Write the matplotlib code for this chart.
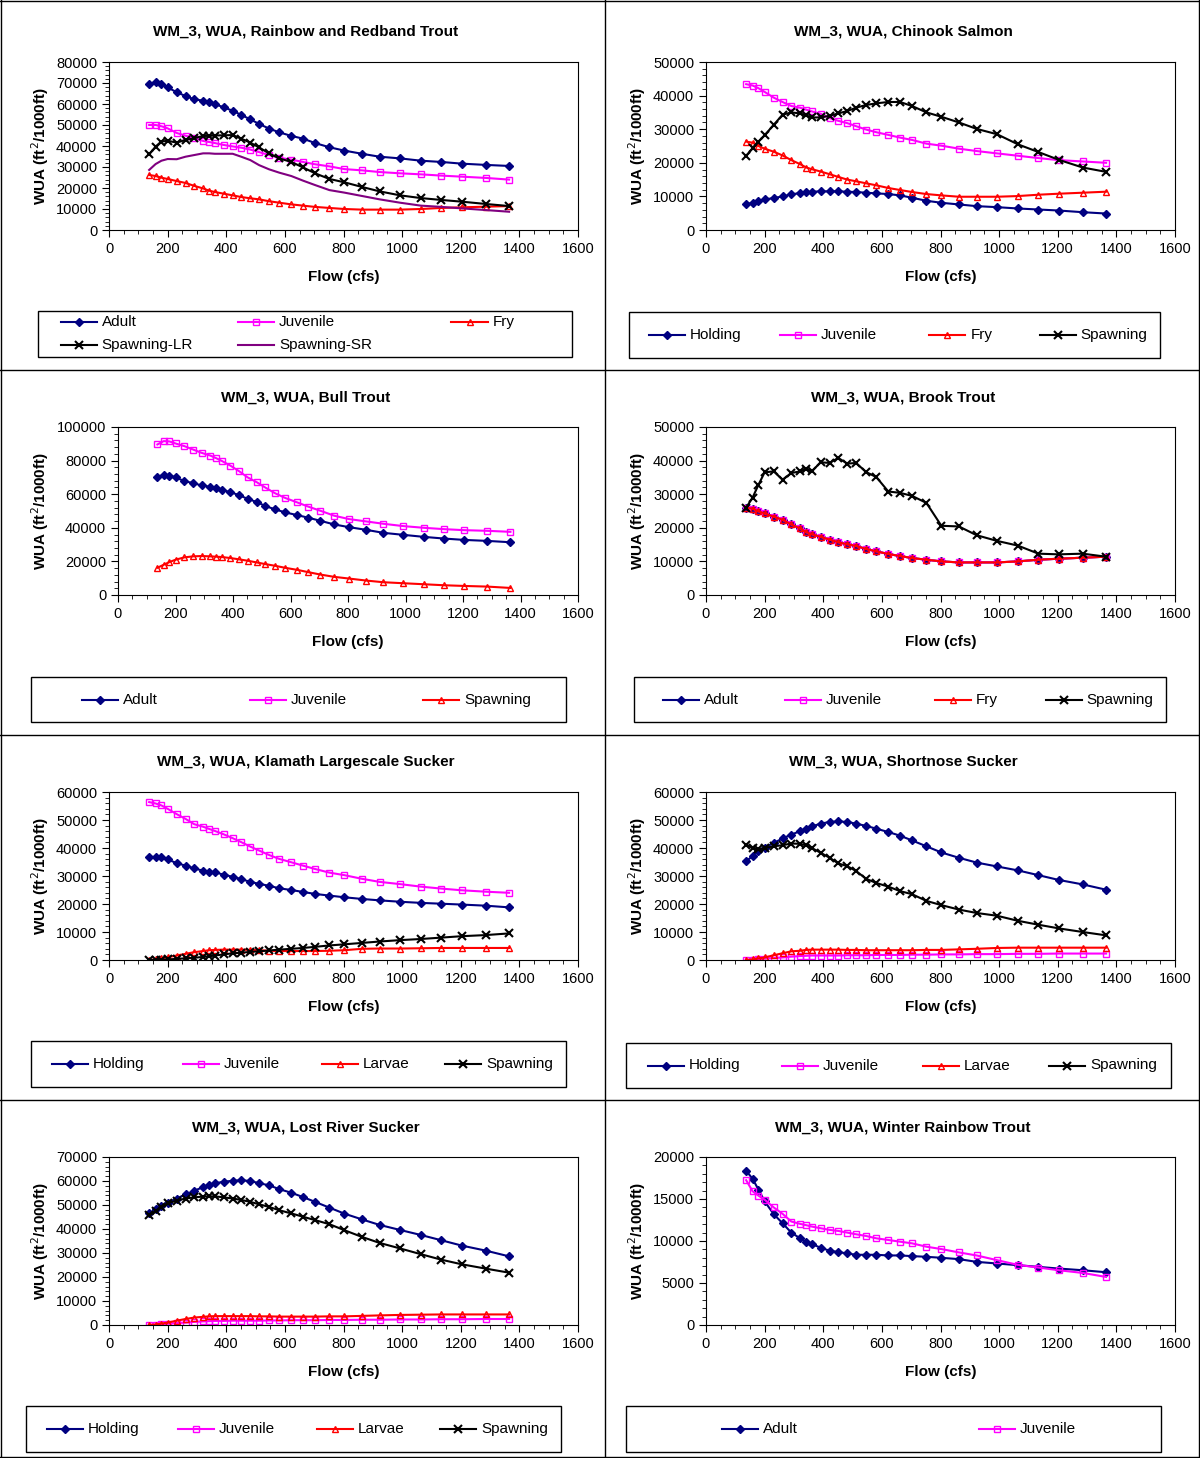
import matplotlib
matplotlib.use("Agg")
import matplotlib.pyplot as plt
from matplotlib.lines import Line2D
from matplotlib.patches import Rectangle
from matplotlib.ticker import MultipleLocator

plt.rcParams["font.family"] = ["Liberation Sans", "DejaVu Sans"]
plt.rcParams["font.size"] = 10

flow = [137, 159, 179, 200, 231, 261, 291, 321, 342, 361, 391, 422, 451, 482, 512,
        546, 581, 622, 662, 703, 752, 803, 863, 923, 993, 1064, 1134, 1203, 1285, 1365]

# Rainbow and Redband Trout
rb_adult = [69500, 70500, 69500, 67900, 65600, 63800, 62200, 61600, 60800, 60000, 58400, 56800, 54800, 52700, 50500,
            48300, 46500, 44800, 43500, 41400, 39400, 37800, 36300, 34900, 34100, 33000, 32400, 31600, 31000, 30500]
rb_juv = [50000, 50000, 49400, 48400, 46200, 44900, 43800, 42400, 41900, 41400, 40500, 39800, 39200, 38300, 37100,
          35700, 34400, 33500, 32400, 31300, 30300, 29000, 28400, 27600, 27000, 26500, 25900, 25400, 24800, 24000]
rb_fry = [26200, 25700, 24900, 24300, 23300, 22400, 21000, 19800, 18700, 18100, 17300, 16500, 15700, 15100, 14600,
          13700, 13000, 12200, 11600, 11000, 10500, 10000, 9700, 9700, 9700, 10000, 10500, 10800, 11100, 11400]
rb_spawn_lr = [36000, 39700, 42100, 42500, 41600, 42900, 43700, 44800, 44800, 45000, 45100, 45200, 43500, 41600, 39300,
               36500, 34100, 32400, 29800, 27000, 24300, 22700, 20500, 18400, 16500, 15200, 14300, 13500, 12400, 11400]
rb_spawn_sr = [28600, 31400, 33000, 33800, 33700, 34900, 35700, 36500, 36500, 36300, 36300, 36300, 34900, 33300, 30900,
               28900, 27300, 25700, 23500, 21400, 19000, 17800, 16200, 14600, 13000, 11600, 11000, 10300, 9500, 8700]

# Chinook Salmon
ch_hold = [7600, 8100, 8600, 9100, 9500, 10000, 10600, 11000, 11200, 11400, 11500, 11500, 11500, 11400, 11300,
           11100, 10900, 10700, 10300, 9600, 8700, 8100, 7600, 7100, 6800, 6400, 6100, 5800, 5300, 4900]
ch_juv = [43400, 43000, 42200, 41100, 39400, 38100, 36900, 36400, 35800, 35300, 34600, 33300, 32500, 31800, 30900,
          29900, 29100, 28300, 27500, 26800, 25700, 25100, 24200, 23500, 22800, 22100, 21400, 20800, 20400, 20000]
ch_fry = [26300, 26000, 25000, 24200, 23300, 22200, 20800, 19600, 18600, 18100, 17400, 16600, 15800, 15000, 14500,
          13900, 13300, 12500, 11900, 11300, 10700, 10300, 9900, 9900, 9900, 10100, 10500, 10800, 11100, 11400]
ch_spawn = [22100, 24300, 26300, 28200, 31300, 34300, 35000, 34700, 34100, 33500, 33500, 34000, 34700, 35400, 36400,
            37200, 37700, 38100, 38100, 36900, 35000, 33700, 32000, 30100, 28500, 25500, 23200, 20900, 18600, 17300]

# Bull Trout
bt_adult = [70200, 71600, 71000, 70000, 67800, 66600, 65200, 64400, 63400, 62600, 61200, 59400, 57200, 55400, 53000,
            51000, 49200, 47600, 46000, 44200, 42000, 40400, 38800, 37000, 35800, 34600, 33600, 32800, 32200, 31400]
bt_juv = [89600, 91600, 91400, 90200, 88600, 86600, 84600, 83000, 81400, 79800, 77000, 73600, 70000, 67200, 64000,
          60600, 57800, 55200, 52600, 50200, 47200, 45200, 43800, 42400, 41000, 40000, 39200, 38600, 38200, 37600]
bt_spawn = [16200, 18000, 19600, 21000, 22400, 23000, 23200, 23000, 22800, 22600, 22000, 21200, 20400, 19400, 18400,
            17400, 16200, 15000, 13600, 12200, 10800, 9800, 8600, 7600, 7000, 6400, 5800, 5400, 5000, 4200]

# Brook Trout
bk_adult = [26000, 25700, 24900, 24300, 23300, 22400, 21000, 19800, 18700, 18100, 17300, 16500, 15700, 15100, 14600,
            13700, 13000, 12200, 11600, 11000, 10500, 10000, 9700, 9700, 9700, 10000, 10500, 10800, 11100, 11400]
bk_juv = list(bk_adult)
bk_fry = list(bk_adult)
bk_spawn = [26000, 29000, 32800, 36500, 36800, 34300, 36300, 36800, 37500, 36800, 39500, 39300, 40800, 39100, 39300,
            36600, 35100, 30800, 30400, 29500, 27400, 20600, 20400, 17800, 16100, 14700, 12300, 12100, 12300, 11400]

# Klamath Largescale Sucker
kl_hold = [36800, 36800, 36700, 35900, 34600, 33700, 32700, 31900, 31500, 31300, 30500, 29700, 28900, 27900, 27200,
           26500, 25600, 25000, 24300, 23600, 23000, 22400, 21800, 21300, 20800, 20400, 20100, 19800, 19400, 18800]
kl_juv = [56400, 55900, 55200, 54000, 52100, 50400, 48500, 47600, 46800, 46100, 44900, 43500, 42100, 40500, 39100,
          37500, 36100, 34900, 33700, 32500, 31200, 30300, 29000, 27900, 27100, 26200, 25500, 24900, 24400, 24000]
kl_larv = [0, 200, 600, 1000, 1600, 2200, 2800, 3200, 3500, 3600, 3700, 3700, 3700, 3600, 3500,
           3300, 3200, 3200, 3200, 3200, 3300, 3500, 4000, 4100, 4100, 4200, 4300, 4300, 4300, 4300]
kl_spawn = [0, 0, 100, 200, 400, 600, 800, 1100, 1300, 1600, 2000, 2400, 2600, 2900, 3100,
            3400, 3700, 4000, 4300, 4700, 5200, 5600, 6100, 6600, 7100, 7500, 8000, 8500, 8900, 9500]

# Shortnose Sucker
sn_hold = [35300, 37100, 38900, 40100, 41800, 43400, 44800, 46000, 46900, 47700, 48700, 49300, 49500, 49300, 48700,
           47900, 46900, 45700, 44400, 42700, 40600, 38400, 36500, 34800, 33400, 32000, 30300, 28600, 27000, 25100]
sn_juv = [0, 100, 200, 500, 700, 900, 1200, 1400, 1500, 1600, 1600, 1600, 1600, 1700, 1700,
          1700, 1800, 1800, 1800, 1900, 1900, 2000, 2000, 2100, 2100, 2200, 2200, 2300, 2300, 2300]
sn_larv = [0, 200, 600, 900, 1700, 2400, 3100, 3300, 3600, 3700, 3700, 3700, 3700, 3600, 3600,
           3500, 3500, 3500, 3500, 3500, 3600, 3600, 3800, 4000, 4300, 4400, 4400, 4400, 4400, 4400]
sn_spawn = [41200, 40000, 39500, 40000, 40600, 41000, 41600, 41500, 40900, 40000, 38300, 36500, 34500, 33500, 31800,
            29000, 27500, 26200, 24600, 23500, 21100, 19600, 18000, 16800, 15800, 14000, 12600, 11300, 10000, 8800]

# Lost River Sucker
lr_hold = [46500, 48200, 49600, 51000, 52700, 54400, 56000, 57400, 58300, 59000, 59700, 60100, 60300, 60000, 59100,
           58200, 56600, 55100, 53300, 51300, 48900, 46400, 44000, 41700, 39600, 37500, 35300, 33100, 31000, 28600]
lr_juv = [0, 100, 300, 500, 800, 1000, 1300, 1500, 1600, 1700, 1700, 1800, 1800, 1800, 1800,
          1900, 1900, 2000, 2000, 2000, 2100, 2100, 2200, 2200, 2300, 2300, 2400, 2400, 2500, 2500]
lr_larv = [0, 200, 600, 1000, 1800, 2500, 3100, 3400, 3600, 3700, 3700, 3700, 3700, 3700, 3600,
           3600, 3500, 3500, 3500, 3500, 3600, 3600, 3800, 4000, 4200, 4300, 4400, 4400, 4400, 4400]
lr_spawn = [45700, 47400, 49000, 50700, 51800, 52700, 53200, 53500, 53600, 53600, 53200, 52700, 52100, 51300, 50300,
            49200, 47800, 46500, 45100, 43700, 42000, 39500, 36700, 34200, 31900, 29500, 27200, 25300, 23500, 21800]

# Winter Rainbow Trout
wr_adult = [18360, 17400, 16120, 14720, 13200, 12120, 11000, 10320, 9880, 9640, 9200, 8840, 8680, 8520, 8360,
            8360, 8360, 8280, 8280, 8200, 8120, 8000, 7840, 7520, 7320, 7120, 6920, 6720, 6520, 6280]
wr_juv = [17240, 15920, 15400, 14920, 14000, 13240, 12320, 12040, 11880, 11720, 11520, 11320, 11200, 11000, 10800,
          10600, 10320, 10120, 9920, 9720, 9320, 9040, 8640, 8280, 7720, 7160, 6840, 6520, 6200, 5720]

NAVY = dict(color="#000080", marker="D", ms=4, mfc="#000080", mec="#000080")
MAG = dict(color="#FF00FF", marker="s", ms=5, mfc="none", mec="#FF00FF")
RED = dict(color="#FF0000", marker="^", ms=5, mfc="none", mec="#FF0000")
BLK = dict(color="black", marker="x", ms=6, mew=1.5)
PUR = dict(color="#800080", marker=None)

W, H = 1200, 1458
HL = 36  # legend handle length, px

# (title, ymax, ystep, left_px, col, row, series, legend ncol, legend box px (x0, x1, y0, y1))
panels = [
    ("Rainbow and Redband Trout", 80000, 10000, 109, 0, 0,
     [("Adult", rb_adult, NAVY), ("Juvenile", rb_juv, MAG), ("Fry", rb_fry, RED),
      ("Spawning-LR", rb_spawn_lr, BLK), ("Spawning-SR", rb_spawn_sr, PUR)], 3, (38, 572, 311, 357)),
    ("Chinook Salmon", 50000, 10000, 706, 1, 0,
     [("Holding", ch_hold, NAVY), ("Juvenile", ch_juv, MAG), ("Fry", ch_fry, RED),
      ("Spawning", ch_spawn, BLK)], 4, (629, 1160, 312, 358)),
    ("Bull Trout", 100000, 20000, 118, 0, 1,
     [("Adult", bt_adult, NAVY), ("Juvenile", bt_juv, MAG), ("Spawning", bt_spawn, RED)], 3, (31, 566, 677, 722)),
    ("Brook Trout", 50000, 10000, 706, 1, 1,
     [("Adult", bk_adult, NAVY), ("Juvenile", bk_juv, MAG), ("Fry", bk_fry, RED),
      ("Spawning", bk_spawn, BLK)], 4, (634, 1166, 677, 722)),
    ("Klamath Largescale Sucker", 60000, 10000, 109, 0, 2,
     [("Holding", kl_hold, NAVY), ("Juvenile", kl_juv, MAG), ("Larvae", kl_larv, RED),
      ("Spawning", kl_spawn, BLK)], 4, (31, 566, 1041, 1087)),
    ("Shortnose Sucker", 60000, 10000, 706, 1, 2,
     [("Holding", sn_hold, NAVY), ("Juvenile", sn_juv, MAG), ("Larvae", sn_larv, RED),
      ("Spawning", sn_spawn, BLK)], 4, (626, 1171, 1043, 1088)),
    ("Lost River Sucker", 70000, 10000, 109, 0, 3,
     [("Holding", lr_hold, NAVY), ("Juvenile", lr_juv, MAG), ("Larvae", lr_larv, RED),
      ("Spawning", lr_spawn, BLK)], 4, (26, 561, 1406, 1452)),
    ("Winter Rainbow Trout", 20000, 5000, 706, 1, 3,
     [("Adult", wr_adult, NAVY), ("Juvenile", wr_juv, MAG)], 2, (626, 1161, 1406, 1452)),
]

fig = plt.figure(figsize=(W / 100, H / 100), dpi=100)
renderer = fig.canvas.get_renderer()


def fx(px):
    return px / W


def fy(py):
    return 1 - py / H


def draw_legend(series, ncol, box):
    x0, x1, y0, y1 = box
    fig.add_artist(Rectangle((fx(x0), fy(y1)), fx(x1 - x0), (y1 - y0) / H,
                             fill=False, edgecolor="black", lw=1))
    nrow = -(-len(series) // ncol)
    cw = (x1 - x0) / ncol
    rows_y = [(y0 + y1) / 2] if nrow == 1 else [y0 + 11, y0 + 34]
    # measure text widths
    widths = []
    for name, _, _ in series:
        t = fig.text(0, 0, name, fontsize=11)
        widths.append(t.get_window_extent(renderer).width)
        t.remove()
    for i, (name, _, st) in enumerate(series):
        r, c = divmod(i, ncol)
        col_items = [j for j in range(len(series)) if j % ncol == c]
        ew = HL + 5 + max(widths[j] for j in col_items)
        xs = x0 + c * cw + (cw - ew) / 2
        yy = rows_y[r]
        fig.add_artist(Line2D([fx(xs), fx(xs + HL)], [fy(yy)] * 2, lw=1.5,
                              color=st["color"]))
        if st.get("marker"):
            mk = {k: v for k, v in st.items() if k != "color"}
            fig.add_artist(Line2D([fx(xs + HL / 2)], [fy(yy)], lw=0, color=st["color"], **mk))
        fig.text(fx(xs + HL + 5), fy(yy), name, fontsize=11, ha="left", va="center")


for title, ymax, ystep, left, col, row, series, ncol, lb in panels:
    top = 62 + 365 * row
    bot = top + 168
    right = 578 if col == 0 else 1175
    ax = fig.add_axes([fx(left), fy(bot), (right - left) / W, (bot - top) / H])
    for name, vals, st in series:
        ax.plot(flow, vals, lw=1.5, label=name, **st)
    ax.set_xlim(0, 1600)
    ax.set_ylim(0, ymax)
    ax.xaxis.set_major_locator(MultipleLocator(200))
    ax.xaxis.set_minor_locator(MultipleLocator(50))
    ax.yaxis.set_major_locator(MultipleLocator(ystep))
    ax.yaxis.set_minor_locator(MultipleLocator(ystep / 5))
    ax.tick_params(which="major", length=5, direction="out", labelsize=10.5)
    ax.tick_params(which="minor", length=3, direction="out")
    ax.set_xlabel("Flow (cfs)", fontweight="bold", fontsize=11, labelpad=10)
    ax.set_ylabel("WUA (ft$^2$/1000ft)", fontweight="bold", fontsize=11)
    cx = 306 if col == 0 else 903
    fig.text(fx(cx), fy(32 + 365 * row), "WM_3, WUA, " + title,
             ha="center", va="center", fontweight="bold", fontsize=11)
    draw_legend(series, ncol, lb)

# table cell borders
for yy in [1, 370, 735, 1100, 1457]:
    fig.add_artist(Line2D([0, 1], [fy(yy)] * 2, color="black", lw=1))
for xx in [1, 605, 1199]:
    fig.add_artist(Line2D([fx(xx)] * 2, [0, 1], color="black", lw=1))

fig.savefig("out.png", dpi=100)
